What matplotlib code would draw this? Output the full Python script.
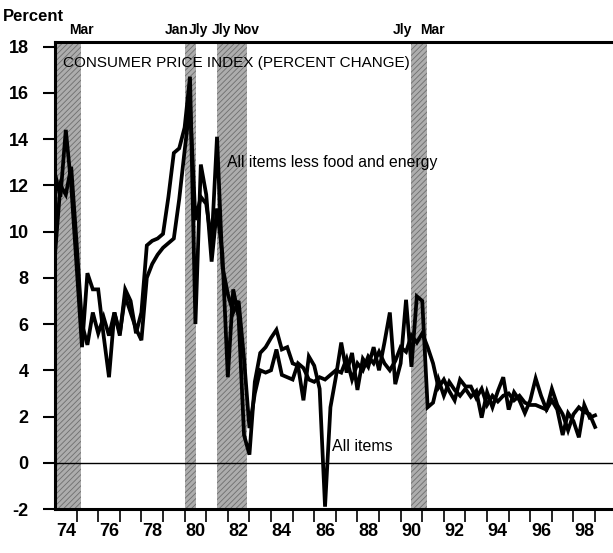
import numpy as np
import matplotlib
matplotlib.use('Agg')
import matplotlib.pyplot as plt
import matplotlib.transforms as mtransforms

plt.rcParams['font.family'] = ['Liberation Sans', 'DejaVu Sans']
plt.rcParams['hatch.linewidth'] = 0.6

# quarterly dates, 1974 to 1999
dates = np.arange(1974.0, 1999.01, 0.25)

# CPI, all items (percent change)
all_items = [12.5, 11.5, 14.4, 12.0, 8.5, 5.0, 8.2, 7.5, 7.5, 5.5,
             3.7, 6.5, 5.5, 7.5, 7.0, 5.6, 6.5, 9.4, 9.6, 9.7,
             9.9, 11.5, 13.4, 13.6, 14.5, 16.7, 6.0, 12.9, 11.6, 8.7,
             11.0, 9.0, 3.7, 7.5, 6.3, 1.2, 0.35, 3.5, 4.75, 5.0,
             5.4, 5.75, 4.9, 5.0, 4.3, 4.2, 2.7, 4.6, 4.2, 3.2,
             -1.9, 2.4, 3.7, 5.2, 3.9, 4.75, 3.15, 4.5, 4.15, 5.0,
             4.0, 5.2, 6.5, 3.4, 4.3, 7.05, 4.15, 7.2, 7.0, 2.4,
             2.6, 3.6, 2.9, 3.5, 3.15, 2.9, 3.2, 2.85, 3.1, 1.95,
             3.05, 2.4, 3.1, 3.7, 2.3, 3.05, 2.7, 2.15, 2.7, 3.65,
             2.9, 2.3, 2.7, 2.3, 1.2, 2.15, 1.8, 1.1, 2.5, 1.95,
             2.05]

# CPI, all items less food and energy
core = [9.0, 12.0, 11.6, 12.8, 9.5, 6.0, 5.1, 6.5, 5.6, 6.3,
        5.5, 6.5, 5.6, 7.2, 6.5, 5.8, 5.3, 8.0, 8.6, 9.0,
        9.3, 9.5, 9.7, 11.4, 13.5, 15.5, 10.5, 11.5, 11.2, 9.5,
        14.1, 8.5, 7.3, 6.5, 7.0, 4.5, 1.5, 3.0, 4.0, 3.9,
        4.0, 4.9, 3.8, 3.7, 3.6, 4.3, 4.1, 3.6, 3.5, 3.7,
        3.6, 3.8, 4.0, 3.9, 4.5, 3.6, 4.3, 4.0, 4.6, 4.3,
        4.8, 4.3, 4.0, 4.4, 5.0, 4.8, 5.5, 5.2, 5.6, 5.0,
        4.3, 3.25, 3.6, 3.1, 2.7, 3.6, 3.3, 3.3, 2.8, 3.2,
        2.5, 2.9, 2.65, 2.9, 3.0, 2.7, 2.9, 2.6, 2.5, 2.5,
        2.4, 2.3, 3.2, 2.5, 2.1, 1.4, 2.1, 2.4, 2.2, 2.1,
        1.55]

# recessions (start, end) and month labels above the frame
recessions = [(1973.9, 1975.2), (1980.0, 1980.55), (1981.5, 1982.9), (1990.5, 1991.2)]
month_labels = ['Mar', 'Jan', 'Jly', 'Jly', 'Nov', 'Jly', 'Mar']
month_pos = [1975.23, 1979.65, 1980.62, 1981.72, 1982.85, 1990.1, 1991.45]

year_labels = ['74', '76', '78', '80', '82', '84', '86', '88', '90', '92', '94', '96', '98']
y_ticks = [-2, 0, 2, 4, 6, 8, 10, 12, 14, 16, 18]

fig = plt.figure(figsize=(6.13, 5.53), dpi=100)
ax = fig.add_axes([55 / 613, 1 - 509 / 553, 558 / 613, 467 / 553])

for start, end in recessions:
    ax.axvspan(max(start, 1974.0), end, facecolor='#adadad', edgecolor='#6e6e6e',
               hatch='//////', linewidth=0, zorder=0)

ax.axhline(0, color='black', lw=1.0, zorder=1)
ax.plot(dates, core, color='black', lw=2.7, solid_joinstyle='miter', zorder=3)
ax.plot(dates, all_items, color='black', lw=2.7, solid_joinstyle='miter', zorder=3)

ax.set_xlim(1974.0, 1999.83)
ax.set_ylim(-2, 18.2)

ax.spines['right'].set_visible(False)
for s in ['left', 'bottom', 'top']:
    ax.spines[s].set_linewidth(2.2)

ax.set_yticks(y_ticks)
ax.set_yticklabels([str(v) for v in y_ticks], fontsize=13, fontweight='bold')
ax.tick_params(axis='y', direction='out', length=9, width=1.5, pad=10)

ax.set_xticks(np.arange(1975, 1999.5, 1))
ax.set_xticklabels([])
ax.tick_params(axis='x', which='major', direction='out', length=9, width=1.2)
ax.set_xticks(np.arange(1974.5, 1999, 2), minor=True)
ax.set_xticklabels(year_labels, minor=True, fontsize=13, fontweight='bold')
ax.tick_params(axis='x', which='minor', length=0, pad=10)

trans = mtransforms.blended_transform_factory(ax.transData, ax.transAxes)
for lab, xp in zip(month_labels, month_pos):
    ax.text(xp, 1.01, lab, transform=trans, ha='center', va='bottom',
            fontsize=10, fontweight='bold')

fig.text(3 / 613, 1 - 24 / 553, 'Percent', fontsize=12, fontweight='bold', ha='left', va='bottom')

ax.text(1974.35, 17.3, 'CONSUMER PRICE INDEX (PERCENT CHANGE)', fontsize=11,
        ha='left', va='center', zorder=4)
ax.text(1981.95, 13.0, 'All items less food and energy', fontsize=11.3,
        ha='left', va='center', zorder=4)
ax.text(1986.8, 0.7, 'All items', fontsize=11.5, ha='left', va='center', zorder=4)

fig.savefig('out.png', dpi=100)
